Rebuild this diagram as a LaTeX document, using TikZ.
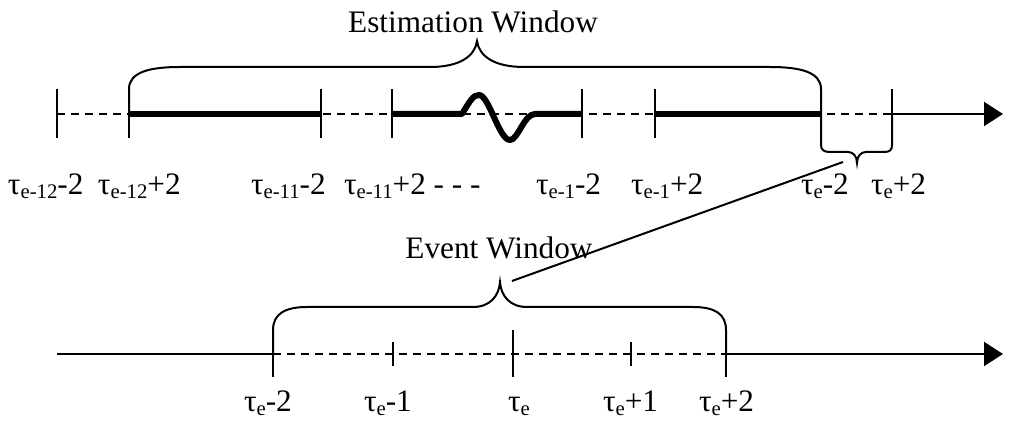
\documentclass[tikz,border=0pt]{standalone}
\usepackage{fontspec}
\setmainfont{Liberation Serif}
\usetikzlibrary{arrows.meta}
\newcommand{\tsub}[1]{\raisebox{-1.5pt}{\fontsize{8.3}{9}\selectfont #1}}

\begin{document}
\begin{tikzpicture}[x=0.4pt,y=-0.4pt,line width=0.8pt,
    every node/.style={inner sep=0pt,font=\fontsize{12.5}{15}\selectfont},
    axis/.style={-{Triangle[length=7.6pt,width=9.6pt]}},
    gap/.style={dash pattern=on 3.2pt off 2.4pt},
    est/.style={line width=2.4pt,line join=round}]
    \useasboundingbox (0,0) rectangle (1009,425);

    % Points on the upper time axis
    \coordinate (A0) at (57,114);
    \coordinate (A1) at (129,114);
    \coordinate (A2) at (321,114);
    \coordinate (A3) at (392,114);
    \coordinate (A4) at (582,114);
    \coordinate (A5) at (655,114);
    \coordinate (A6) at (821,114);
    \coordinate (A7) at (892,114);
    \coordinate (AE) at (1003,114);

    % Points on the lower time axis
    \coordinate (B0) at (57,354);
    \coordinate (B1) at (273,354);
    \coordinate (B2) at (393,354);
    \coordinate (B3) at (513,354);
    \coordinate (B4) at (631,354);
    \coordinate (B5) at (726,354);
    \coordinate (BE) at (1003,354);

    % Draw the upper axis
    \draw[gap] (A0) -- (A7);
    \draw[axis] (A7) -- (AE);
    \draw[est] (A1) -- (A2);
    \draw[est] (A3) -- (462,114) .. controls (470,101) and (473,95) .. (479,95)
        .. controls (489,95) and (499,140) .. (510,140)
        .. controls (518,140) and (524,114) .. (535,114) -- (A4);
    \draw[est] (A5) -- (A6);
    \foreach \x in {57,129,321,392,582,655,821,892}
        \draw (\x,89) -- (\x,138);

    % Draw the lower axis
    \draw (B0) -- (B1);
    \draw[gap] (B1) -- (B5);
    \draw[axis] (B5) -- (BE);
    \foreach \x in {273,513,726}
        \draw (\x,330) -- (\x,377);
    \foreach \x in {393,631}
        \draw (\x,342) -- (\x,366);

    % Brace of the estimation window
    \coordinate (EstTip) at (477,41);
    \draw (A1) -- (129,89) .. controls (129,72) and (150,67) .. (180,67) -- (430,67)
        .. controls (460,67) and (475,56) .. (EstTip)
        .. controls (479,56) and (494,67) .. (524,67) -- (770,67)
        .. controls (800,67) and (821,72) .. (821,89) -- (A6);
    \node[anchor=base] (est) at (473,33) {Estimation Window};

    % Small brace under the last gap
    \coordinate (GapTip) at (857,163);
    \draw (A6) -- (821,145) .. controls (821,150) and (824,152) .. (830,152) -- (848,152)
        .. controls (853,152) and (857,156) .. (GapTip)
        .. controls (857,156) and (861,152) .. (866,152) -- (884,152)
        .. controls (890,152) and (892,150) .. (892,145) -- (A7);

    % Brace of the event window
    \coordinate (EvTip) at (500,282);
    \draw (B1) -- (273,330) .. controls (273,314) and (285,307) .. (307,307) -- (473,307)
        .. controls (490,307) and (499,296) .. (EvTip)
        .. controls (501,296) and (510,307) .. (527,307) -- (693,307)
        .. controls (715,307) and (726,314) .. (726,330) -- (B5);
    \node[anchor=base] (ev) at (499,259) {Event Window};

    % Link from the gap to the event window
    \coordinate (LinkA) at (843,162);
    \coordinate (LinkB) at (512,281);
    \draw (LinkA) -- (LinkB);

    % Labels of the upper axis
    \node[anchor=base west] (la0) at (7,195) {τ\tsub{e-12}-2};
    \node[anchor=base west] (la1) at (97,195) {τ\tsub{e-12}+2};
    \node[anchor=base west] (la2) at (250,195) {τ\tsub{e-11}-2};
    \node[anchor=base west] (la3) at (343,195) {τ\tsub{e-11}+2 - - -};
    \node[anchor=base west] (la4) at (535,195) {τ\tsub{e-1}-2};
    \node[anchor=base west] (la5) at (630,195) {τ\tsub{e-1}+2};
    \node[anchor=base west] (la6) at (800,195) {τ\tsub{e}-2};
    \node[anchor=base west] (la7) at (870,195) {τ\tsub{e}+2};

    % Labels of the lower axis
    \node[anchor=base west] (lb1) at (243,412) {τ\tsub{e}-2};
    \node[anchor=base west] (lb2) at (363,412) {τ\tsub{e}-1};
    \node[anchor=base west] (lb3) at (507,412) {τ\tsub{e}};
    \node[anchor=base west] (lb4) at (602,412) {τ\tsub{e}+1};
    \node[anchor=base west] (lb5) at (698,412) {τ\tsub{e}+2};
\end{tikzpicture}
\end{document}
